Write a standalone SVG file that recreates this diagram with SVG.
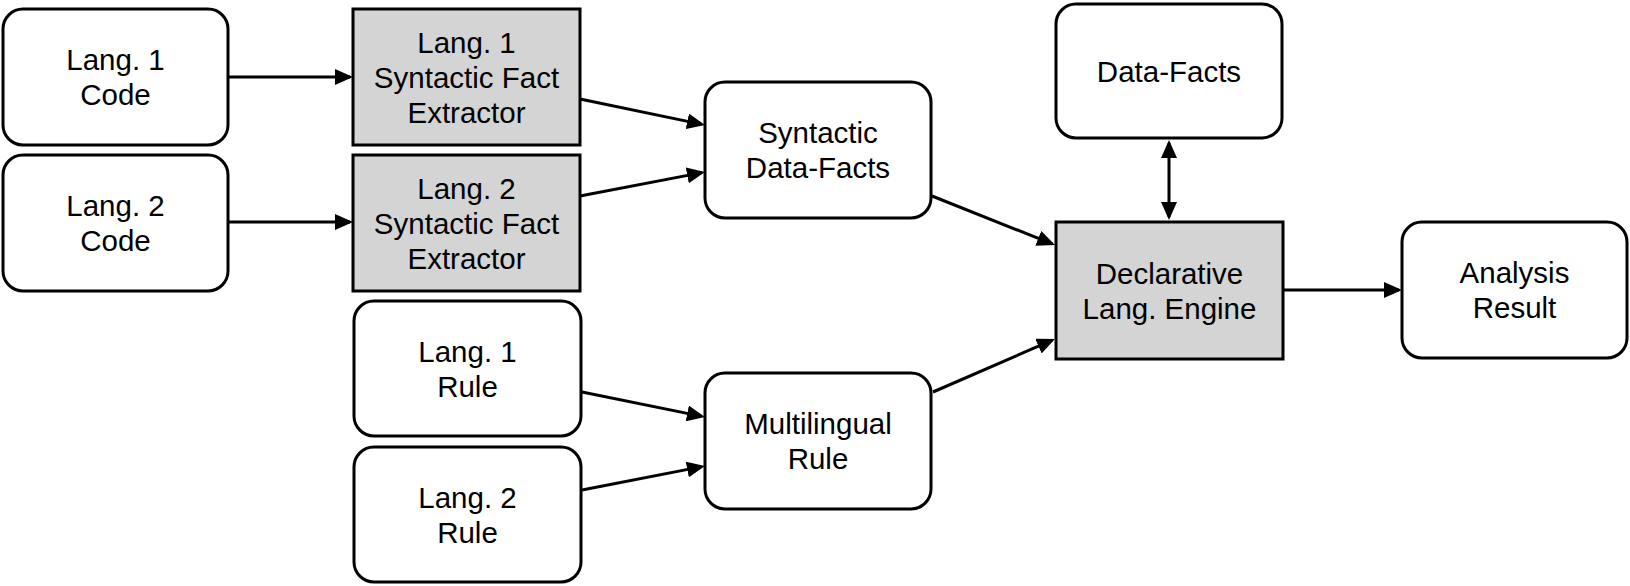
<svg xmlns="http://www.w3.org/2000/svg" width="1630" height="586" viewBox="0 0 1630 586">
<style>
.box{fill:#ffffff;stroke:#000000;stroke-width:3}
.gray{fill:#d4d4d4;stroke:#000000;stroke-width:3}
.t{font-family:"Liberation Sans",Arial,Helvetica,sans-serif;font-size:29.5px;fill:#000000;text-anchor:middle}
.c{stroke:#000000;stroke-width:3;fill:none}
</style>
<defs>
<marker id="ah" markerUnits="userSpaceOnUse" viewBox="0 0 18 16" refX="15" refY="8" markerWidth="18" markerHeight="16" orient="auto-start-reverse">
<path d="M0,0 L18,8 L0,16 z" fill="#000000"/>
</marker>
</defs>
<rect width="1630" height="586" fill="#ffffff"/>
<g id="connectors">
<line class="c" x1="228" y1="77" x2="350" y2="77" marker-end="url(#ah)"/>
<line class="c" x1="228" y1="222" x2="350" y2="222" marker-end="url(#ah)"/>
<line class="c" x1="580" y1="99" x2="702" y2="124.4" marker-end="url(#ah)"/>
<line class="c" x1="580" y1="196" x2="702" y2="172.6" marker-end="url(#ah)"/>
<line class="c" x1="582" y1="392" x2="702" y2="416.4" marker-end="url(#ah)"/>
<line class="c" x1="582" y1="490" x2="702" y2="466.6" marker-end="url(#ah)"/>
<line class="c" x1="932" y1="196" x2="1052.2" y2="243.9" marker-end="url(#ah)"/>
<line class="c" x1="933" y1="392" x2="1052.2" y2="340.2" marker-end="url(#ah)"/>
<line class="c" x1="1169" y1="143" x2="1169" y2="217" marker-start="url(#ah)" marker-end="url(#ah)"/>
<line class="c" x1="1283" y1="290" x2="1399" y2="290" marker-end="url(#ah)"/>
</g>
<g id="lang1-code">
<rect class="box" x="3" y="9" width="225" height="136" rx="20"/>
<text class="t" x="115.5" y="69.5">Lang. 1</text>
<text class="t" x="115.5" y="104.5">Code</text>
</g>
<g id="lang2-code">
<rect class="box" x="3" y="155" width="225" height="136" rx="20"/>
<text class="t" x="115.5" y="215.5">Lang. 2</text>
<text class="t" x="115.5" y="250.5">Code</text>
</g>
<g id="lang1-extractor">
<rect class="gray" x="353" y="9" width="227" height="136"/>
<text class="t" x="466.5" y="53">Lang. 1</text>
<text class="t" x="466.5" y="88">Syntactic Fact</text>
<text class="t" x="466.5" y="123">Extractor</text>
</g>
<g id="lang2-extractor">
<rect class="gray" x="353" y="155" width="227" height="136"/>
<text class="t" x="466.5" y="199">Lang. 2</text>
<text class="t" x="466.5" y="234">Syntactic Fact</text>
<text class="t" x="466.5" y="269">Extractor</text>
</g>
<g id="lang1-rule">
<rect class="box" x="354" y="301" width="227" height="135" rx="20"/>
<text class="t" x="467.5" y="361.5">Lang. 1</text>
<text class="t" x="467.5" y="396.5">Rule</text>
</g>
<g id="lang2-rule">
<rect class="box" x="354" y="447" width="227" height="135" rx="20"/>
<text class="t" x="467.5" y="507.5">Lang. 2</text>
<text class="t" x="467.5" y="542.5">Rule</text>
</g>
<g id="syntactic-data-facts">
<rect class="box" x="705" y="82" width="226" height="136" rx="20"/>
<text class="t" x="818" y="142.5">Syntactic</text>
<text class="t" x="818" y="177.5">Data-Facts</text>
</g>
<g id="multilingual-rule">
<rect class="box" x="705" y="373" width="226" height="136" rx="20"/>
<text class="t" x="818" y="433.5">Multilingual</text>
<text class="t" x="818" y="468.5">Rule</text>
</g>
<g id="data-facts">
<rect class="box" x="1056" y="4" width="226" height="134" rx="20"/>
<text class="t" x="1169" y="81.5">Data-Facts</text>
</g>
<g id="declarative-engine">
<rect class="gray" x="1056" y="222" width="227" height="137"/>
<text class="t" x="1169.5" y="283.5">Declarative</text>
<text class="t" x="1169.5" y="318.5">Lang. Engine</text>
</g>
<g id="analysis-result">
<rect class="box" x="1402" y="222" width="225" height="136" rx="20"/>
<text class="t" x="1514.5" y="282.5">Analysis</text>
<text class="t" x="1514.5" y="317.5">Result</text>
</g>
</svg>
